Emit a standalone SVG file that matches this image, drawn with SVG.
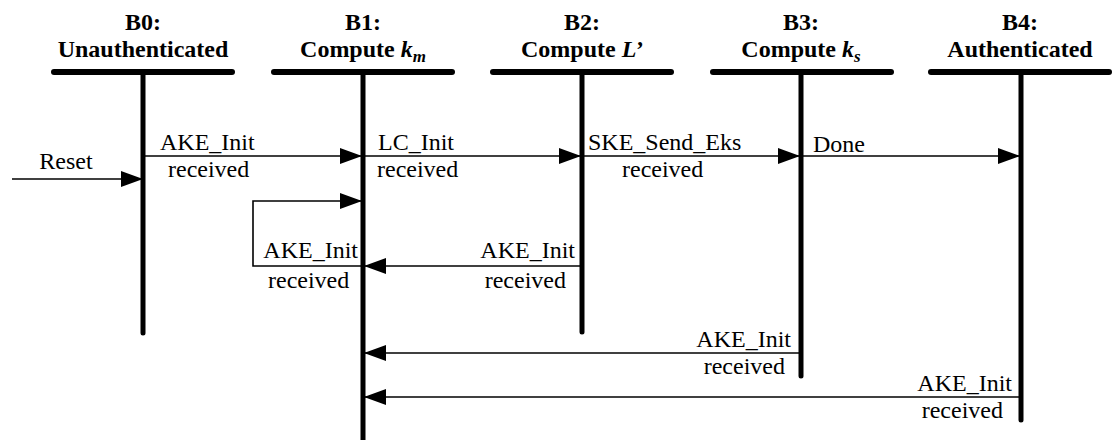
<svg xmlns="http://www.w3.org/2000/svg" width="1116" height="440" viewBox="0 0 1116 440">
<style>
.hd{font-family:"Liberation Serif","Times New Roman",serif;font-size:24px;font-weight:bold;text-anchor:middle;fill:#000}
.hd .it{font-style:italic}
.lb{font-family:"Liberation Serif","Times New Roman",serif;font-size:24px;fill:#000}
.bar{stroke:#000;stroke-width:6;stroke-linecap:round;fill:none}
.life{stroke:#000;stroke-width:5;stroke-linecap:round;fill:none}
.arr{stroke:#000;stroke-width:1.6;fill:none}
.end{text-anchor:end}
.mid{text-anchor:middle}
</style>
<defs>
<marker id="ah" markerUnits="userSpaceOnUse" markerWidth="22" markerHeight="16" refX="21" refY="8" orient="auto">
<path d="M0,0 L22,8 L0,16 Z" fill="#000"/>
</marker>
</defs>
<rect width="1116" height="440" fill="#fff"/>
<g id="B0">
<text class="hd" x="143" y="30">B0:</text>
<text class="hd" x="143" y="57">Unauthenticated</text>
<line class="bar" x1="54" y1="72" x2="232" y2="72"/>
<line class="life" x1="143" y1="72" x2="143" y2="333"/>
</g>
<g id="B1">
<text class="hd" x="363" y="30">B1:</text>
<text class="hd" x="363" y="57">Compute <tspan class="it">k</tspan><tspan class="it" font-size="17" dy="5">m</tspan></text>
<line class="bar" x1="274" y1="72" x2="452" y2="72"/>
<line class="life" x1="363" y1="72" x2="363" y2="445"/>
</g>
<g id="B2">
<text class="hd" x="582" y="30">B2:</text>
<text class="hd" x="582" y="57">Compute <tspan class="it">L’</tspan></text>
<line class="bar" x1="493" y1="72" x2="671" y2="72"/>
<line class="life" x1="582" y1="72" x2="582" y2="332"/>
</g>
<g id="B3">
<text class="hd" x="801" y="30">B3:</text>
<text class="hd" x="801" y="57">Compute <tspan class="it">k</tspan><tspan class="it" font-size="17" dy="5">s</tspan></text>
<line class="bar" x1="713" y1="72" x2="891" y2="72"/>
<line class="life" x1="801" y1="72" x2="801" y2="376"/>
</g>
<g id="B4">
<text class="hd" x="1020" y="30">B4:</text>
<text class="hd" x="1020" y="57">Authenticated</text>
<line class="bar" x1="931" y1="72" x2="1109" y2="72"/>
<line class="life" x1="1021" y1="72" x2="1021" y2="420"/>
</g>
<g id="connectors">
<line class="arr" x1="12" y1="179" x2="142" y2="179" marker-end="url(#ah)"/>
<line class="arr" x1="145" y1="156" x2="361" y2="156" marker-end="url(#ah)"/>
<line class="arr" x1="365" y1="156" x2="580" y2="156" marker-end="url(#ah)"/>
<line class="arr" x1="584" y1="156" x2="799" y2="156" marker-end="url(#ah)"/>
<line class="arr" x1="803" y1="156" x2="1019" y2="156" marker-end="url(#ah)"/>
<polyline class="arr" points="361,266 253,266 253,201 361,201" marker-end="url(#ah)"/>
<line class="arr" x1="580" y1="266" x2="365" y2="266" marker-end="url(#ah)"/>
<line class="arr" x1="799" y1="353" x2="365" y2="353" marker-end="url(#ah)"/>
<line class="arr" x1="1019" y1="397" x2="365" y2="397" marker-end="url(#ah)"/>
</g>
<g id="labels">
<text class="lb mid" x="66" y="169">Reset</text>
<text class="lb" x="160" y="150">AKE_Init</text>
<text class="lb" x="168" y="177">received</text>
<text class="lb" x="378" y="150">LC_Init</text>
<text class="lb" x="377" y="177">received</text>
<text class="lb" x="588" y="150">SKE_Send_Eks</text>
<text class="lb" x="622" y="177">received</text>
<text class="lb" x="813" y="152">Done</text>
<text class="lb end" x="358" y="258">AKE_Init</text>
<text class="lb" x="268" y="288">received</text>
<text class="lb end" x="575" y="258">AKE_Init</text>
<text class="lb end" x="566" y="288">received</text>
<text class="lb end" x="791" y="347">AKE_Init</text>
<text class="lb end" x="785" y="374">received</text>
<text class="lb end" x="1012" y="391">AKE_Init</text>
<text class="lb end" x="1003" y="418">received</text>
</g>
</svg>
